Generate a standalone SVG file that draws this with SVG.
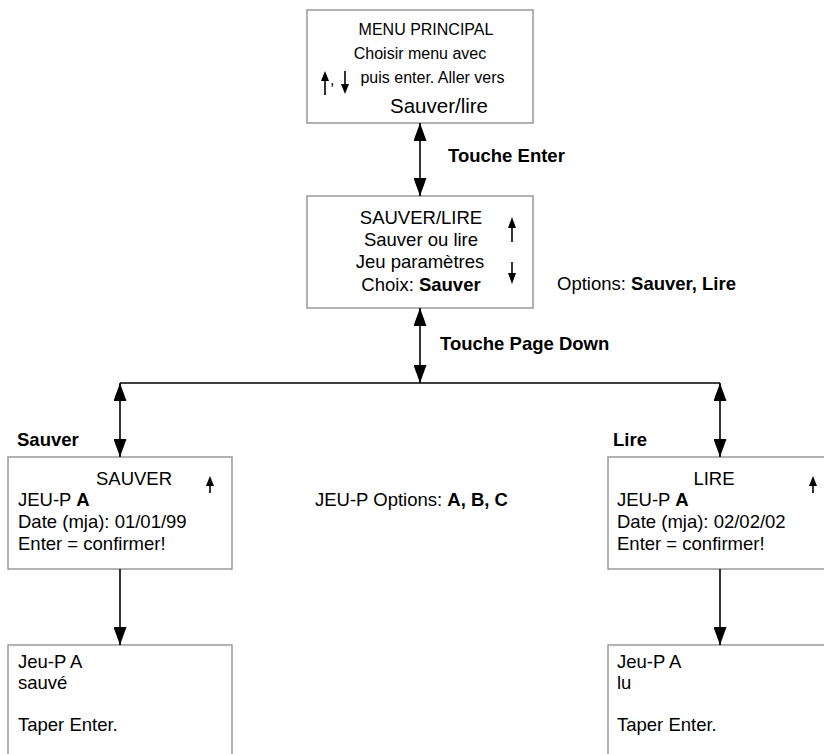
<svg xmlns="http://www.w3.org/2000/svg" width="824" height="754" viewBox="0 0 824 754">
<defs>
<style>
.box{fill:#fff;stroke:#8a8a8a;stroke-width:1.3}
.t{font-family:"Liberation Sans",Arial,sans-serif;fill:#000}
.s16{font-size:16px}
.s18{font-size:18.5px}
.s20{font-size:20.5px}
.b{font-weight:bold}
.c{text-anchor:middle}
.con{stroke:#000;stroke-width:1.6;fill:none}
.ar{stroke:#000;stroke-width:1.6;fill:none}
.ah{fill:#000}
</style>
<marker id="arr" viewBox="0 0 18 13" refX="18" refY="6.5" markerWidth="18" markerHeight="13" markerUnits="userSpaceOnUse" orient="auto-start-reverse">
<path d="M0,0 L18,6.5 L0,13 z" fill="#000"/>
</marker>
</defs>
<rect width="824" height="754" fill="#fff"/>

<g id="menu-principal">
<rect class="box" x="307" y="10" width="226" height="113"/>
<text class="t s16 c" x="426" y="35">MENU PRINCIPAL</text>
<text class="t s16 c" x="420" y="59">Choisir menu avec</text>
<line class="ar" x1="325" y1="95" x2="325" y2="78"/>
<path class="ah" d="M325,71 L329,81 L321,81 z"/>
<text class="t s16" x="330" y="85">,</text>
<line class="ar" x1="345" y1="71" x2="345" y2="88"/>
<path class="ah" d="M345,94 L349,84 L341,84 z"/>
<text class="t s16 c" x="432.5" y="83">puis enter. Aller vers</text>
<text class="t s20 c" x="439" y="113">Sauver/lire</text>
</g>

<g id="sauver-lire">
<rect class="box" x="307" y="196" width="226" height="112"/>
<text class="t s18 c" x="421" y="224">SAUVER/LIRE</text>
<text class="t s18 c" x="421" y="246">Sauver ou lire</text>
<text class="t s18 c" x="420" y="268">Jeu paramètres</text>
<text class="t s18 c" x="421" y="291">Choix: <tspan class="b">Sauver</tspan></text>
<line class="ar" x1="512" y1="242" x2="512" y2="225"/>
<path class="ah" d="M512,217 L516,228 L508,228 z"/>
<line class="ar" x1="512" y1="262" x2="512" y2="276"/>
<path class="ah" d="M512,284 L516,273 L508,273 z"/>
</g>

<g id="options-sauver-lire">
<text class="t s18" x="557" y="290">Options: <tspan class="b">Sauver, Lire</tspan></text>
</g>

<g id="label-touche-enter">
<text class="t s18 b" x="448" y="162">Touche Enter</text>
</g>
<g id="label-touche-page-down">
<text class="t s18 b" x="440" y="350">Touche Page Down</text>
</g>
<g id="label-sauver">
<text class="t s18 b" x="17" y="446">Sauver</text>
</g>
<g id="label-lire">
<text class="t s18 b" x="613" y="446">Lire</text>
</g>

<g id="sauver">
<rect class="box" x="8" y="457" width="224" height="112"/>
<text class="t s18 c" x="134" y="485">SAUVER</text>
<line class="ar" x1="210" y1="493" x2="210" y2="483"/>
<path class="ah" d="M210,476 L214,486 L206,486 z"/>
<text class="t s18" x="18" y="506">JEU-P <tspan class="b">A</tspan></text>
<text class="t s18" x="18" y="528">Date (mja): 01/01/99</text>
<text class="t s18" x="18" y="550">Enter = confirmer!</text>
</g>

<g id="jeu-options">
<text class="t s18" x="315" y="506">JEU-P Options: <tspan class="b">A, B, C</tspan></text>
</g>

<g id="lire">
<rect class="box" x="608" y="457" width="230" height="112"/>
<text class="t s18 c" x="714" y="485">LIRE</text>
<line class="ar" x1="813" y1="493" x2="813" y2="483"/>
<path class="ah" d="M813,476 L817,486 L809,486 z"/>
<text class="t s18" x="617" y="506">JEU-P <tspan class="b">A</tspan></text>
<text class="t s18" x="617" y="528">Date (mja): 02/02/02</text>
<text class="t s18" x="617" y="550">Enter = confirmer!</text>
</g>

<g id="sauve">
<rect class="box" x="8" y="645" width="224" height="130"/>
<text class="t s18" x="18" y="668">Jeu-P A</text>
<text class="t s18" x="18" y="689">sauvé</text>
<text class="t s18" x="18" y="731">Taper Enter.</text>
</g>

<g id="lu">
<rect class="box" x="608" y="645" width="230" height="130"/>
<text class="t s18" x="617" y="668">Jeu-P A</text>
<text class="t s18" x="617" y="689">lu</text>
<text class="t s18" x="617" y="731">Taper Enter.</text>
</g>

<g id="connectors">
<line class="con" x1="420" y1="123" x2="420" y2="196" marker-start="url(#arr)" marker-end="url(#arr)"/>
<line class="con" x1="420" y1="308" x2="420" y2="383" marker-start="url(#arr)" marker-end="url(#arr)"/>
<line class="con" x1="120" y1="383" x2="720" y2="383"/>
<line class="con" x1="120" y1="383" x2="120" y2="457" marker-start="url(#arr)" marker-end="url(#arr)"/>
<line class="con" x1="720" y1="383" x2="720" y2="457" marker-start="url(#arr)" marker-end="url(#arr)"/>
<line class="con" x1="120" y1="569" x2="120" y2="645" marker-end="url(#arr)"/>
<line class="con" x1="720" y1="569" x2="720" y2="645" marker-end="url(#arr)"/>
</g>
</svg>
